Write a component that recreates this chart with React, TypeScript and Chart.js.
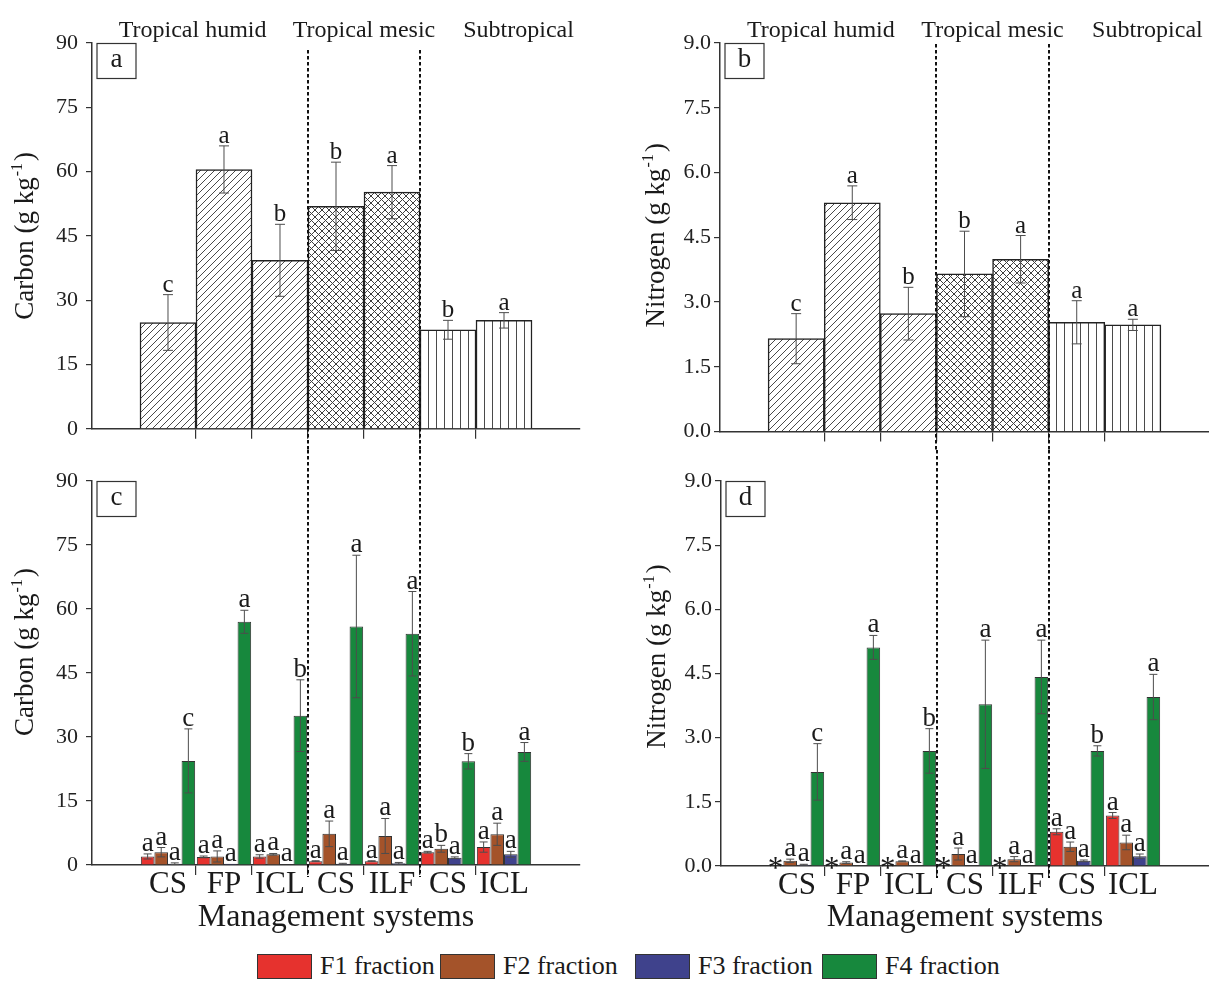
import React, { useEffect, useRef } from 'react';
import { Chart, registerables } from 'chart.js';

Chart.register(...registerables);

const SERIF = "'Liberation Serif', 'Times New Roman', Times, serif";
const INK = '#1a1a1a';

// ---- data -------------------------------------------------------------
const categories = ['CS', 'FP', 'ICL', 'CS', 'ILF', 'CS', 'ICL'];
const climateZones = ['Tropical humid', 'Tropical mesic', 'Subtropical'];
const zoneOfCategory = [0, 0, 0, 1, 1, 2, 2];

const carbonTicks = [0, 15, 30, 45, 60, 75, 90];
const nitrogenTicks = [0, 1.5, 3, 4.5, 6, 7.5, 9];

// (a) total soil carbon
const carbonTotal = [24.8, 60.5, 39.3, 51.9, 55.2, 23.1, 25.3];
const carbonTotalSd = [6.5, 5.5, 8.4, 10.3, 6.2, 2.2, 1.8];
const carbonTotalLetters = ['c', 'a', 'b', 'b', 'a', 'b', 'a'];

// (b) total soil nitrogen
const nitrogenTotal = [2.15, 5.3, 2.73, 3.65, 3.99, 2.53, 2.47];
const nitrogenTotalSd = [0.58, 0.39, 0.61, 0.99, 0.55, 0.5, 0.13];
const nitrogenTotalLetters = ['c', 'a', 'b', 'b', 'a', 'a', 'a'];

// (c) carbon in each fraction
const carbonF1 = [2.0, 1.9, 2.0, 0.9, 0.9, 3.0, 4.2];
const carbonF1Sd = [0.6, 0.2, 0.4, 0.1, 0.1, 0.2, 1.2];
const carbonF1Letters = ['a', 'a', 'a', 'a', 'a', 'a', 'a'];
const carbonF2 = [3.0, 2.0, 2.5, 7.3, 6.8, 3.8, 7.2];
const carbonF2Sd = [1.1, 1.3, 0.2, 3.0, 4.1, 0.8, 2.6];
const carbonF2Letters = ['a', 'a', 'a', 'a', 'a', 'b', 'a'];
const carbonF3 = [0.3, 0.3, 0.15, 0.3, 0.4, 1.7, 2.5];
const carbonF3Sd = [0.2, 0, 0, 0.1, 0.2, 0.2, 0.7];
const carbonF3Letters = ['a', 'a', 'a', 'a', 'a', 'a', 'a'];
const carbonF4 = [24.4, 57.0, 35.0, 55.9, 54.2, 24.3, 26.5];
const carbonF4Sd = [7.5, 2.7, 8.4, 16.7, 9.9, 1.8, 2.2];
const carbonF4Letters = ['c', 'a', 'b', 'a', 'a', 'b', 'a'];

// (d) nitrogen in each fraction ("*" = not detected)
const nitrogenF1 = [null, null, null, null, null, 0.8, 1.18];
const nitrogenF1Sd = [0, 0, 0, 0, 0, 0.07, 0.07];
const nitrogenF1Letters = ['*', '*', '*', '*', '*', 'a', 'a'];
const nitrogenF2 = [0.12, 0.08, 0.11, 0.28, 0.16, 0.45, 0.55];
const nitrogenF2Sd = [0.04, 0.02, 0.01, 0.14, 0.06, 0.11, 0.17];
const nitrogenF2Letters = ['a', 'a', 'a', 'a', 'a', 'a', 'a'];
const nitrogenF3 = [0.03, 0.01, 0.01, 0.01, 0.01, 0.12, 0.23];
const nitrogenF3Sd = [0.01, 0, 0, 0, 0, 0.02, 0.05];
const nitrogenF3Letters = ['a', 'a', 'a', 'a', 'a', 'a', 'a'];
const nitrogenF4 = [2.2, 5.11, 2.69, 3.78, 4.42, 2.69, 3.95];
const nitrogenF4Sd = [0.66, 0.28, 0.52, 1.5, 0.86, 0.12, 0.53];
const nitrogenF4Letters = ['c', 'a', 'b', 'a', 'a', 'b', 'a'];

const fractionNames = ['F1 fraction', 'F2 fraction', 'F3 fraction', 'F4 fraction'];
const fractionColors = ['#E6322E', '#A4532A', '#3F428C', '#17883D'];

// ---- layout -----------------------------------------------------------
const X_MIN = -1.357;
const X_MAX = 7.357;
const ZONE_LABEL_AT = [0.44, 3.5, 6.26];
const HATCH_KINDS = ['diagonal', 'cross', 'vertical'] as const;

type Series = {
  name: string;
  values: (number | null)[];
  errors: number[];
  letters: string[];
  fill?: any;
};

type PanelSpec = {
  tag: string;
  left: number;
  top: number;
  width: number;
  height: number;
  plotLeft: number;
  plotRight: number;
  plotTop: number;
  plotBottom: number;
  yTicks: number[];
  decimals: number;
  yLabelPad: number;
  yTitle: string;
  yTitleX: number;
  yTitleShift: number;
  totals: boolean;
  series: Series[];
  letterSize: number;
  capHalf: number;
  dividerTop: number;
  dividerToCanvasEnd: boolean;
};

function hatchPattern(ctx: CanvasRenderingContext2D, kind: string) {
  const size = kind === 'vertical' ? 8 : 7;
  const tile = document.createElement('canvas');
  tile.width = size;
  tile.height = size;
  const g = tile.getContext('2d')!;
  g.fillStyle = '#ffffff';
  g.fillRect(0, 0, size, size);
  g.strokeStyle = kind === 'cross' ? '#3e3e3e' : '#4a4a4a';
  g.lineWidth = 1;
  g.beginPath();
  if (kind === 'vertical') {
    g.moveTo(size / 2 + 0.5, 0);
    g.lineTo(size / 2 + 0.5, size);
  } else {
    g.moveTo(-1, size + 1);
    g.lineTo(size + 1, -1);
    g.moveTo(-1, 1);
    g.lineTo(1, -1);
    g.moveTo(size - 1, size + 1);
    g.lineTo(size + 1, size - 1);
    if (kind === 'cross') {
      g.moveTo(-1, -1);
      g.lineTo(size + 1, size + 1);
      g.moveTo(-1, size - 1);
      g.lineTo(1, size + 1);
      g.moveTo(size - 1, -1);
      g.lineTo(size + 1, 1);
    }
  }
  g.stroke();
  return ctx.createPattern(tile, 'repeat');
}

function drawYTitle(ctx: CanvasRenderingContext2D, text: string, cx: number, cy: number) {
  const main = `${text} (g kg`;
  const sup = '-1';
  const close = ')';
  ctx.save();
  ctx.font = `27px ${SERIF}`;
  const w1 = ctx.measureText(main).width;
  const w3 = ctx.measureText(close).width;
  ctx.font = `16px ${SERIF}`;
  const w2 = ctx.measureText(sup).width;
  const total = w1 + w2 + w3 + 3;
  ctx.translate(cx, cy);
  ctx.rotate(-Math.PI / 2);
  ctx.fillStyle = INK;
  ctx.textAlign = 'left';
  ctx.textBaseline = 'alphabetic';
  let x = -total / 2;
  ctx.font = `27px ${SERIF}`;
  ctx.fillText(main, x, 0);
  x += w1 + 1;
  ctx.font = `16px ${SERIF}`;
  ctx.fillText(sup, x, -11);
  x += w2 + 2;
  ctx.font = `27px ${SERIF}`;
  ctx.fillText(close, x, 0);
  ctx.restore();
}

function makeDecor(spec: PanelSpec, series: Series[]) {
  const dividers: number[] = [];
  zoneOfCategory.forEach((z, i) => {
    if (i > 0 && z !== zoneOfCategory[i - 1]) dividers.push(i - 0.5);
  });
  return {
    id: 'panelDecor',
    afterDatasetsDraw(chart: any) {
      const ctx: CanvasRenderingContext2D = chart.ctx;
      const yScale = chart.scales.y;
      const y0 = yScale.getPixelForValue(0);
      ctx.save();
      series.forEach((s, di) => {
        const meta = chart.getDatasetMeta(di);
        meta.data.forEach((bar: any, j: number) => {
          const x = bar.x;
          if (!isFinite(x)) return;
          const v = s.values[j];
          const e = s.errors[j] || 0;
          if (v != null && e > 0) {
            const yt = yScale.getPixelForValue(v + e);
            const yb = yScale.getPixelForValue(Math.max(v - e, 0));
            ctx.strokeStyle = '#4d4d4d';
            ctx.lineWidth = 1;
            ctx.beginPath();
            ctx.moveTo(x, yt);
            ctx.lineTo(x, yb);
            ctx.moveTo(x - spec.capHalf, yt);
            ctx.lineTo(x + spec.capHalf, yt);
            ctx.moveTo(x - spec.capHalf, yb);
            ctx.lineTo(x + spec.capHalf, yb);
            ctx.stroke();
          }
          const letter = s.letters[j];
          if (!letter) return;
          ctx.fillStyle = INK;
          ctx.textAlign = 'center';
          ctx.textBaseline = 'alphabetic';
          if (v == null) {
            // not-detected marker sits on the baseline
            ctx.font = `31px ${SERIF}`;
            ctx.fillText(letter, x - 1, y0 + 12);
          } else {
            ctx.font = `${spec.letterSize}px ${SERIF}`;
            ctx.fillText(letter, x, yScale.getPixelForValue(v + e) - 3);
          }
        });
      });
      ctx.restore();
    },
    afterDraw(chart: any) {
      const ctx: CanvasRenderingContext2D = chart.ctx;
      const xScale = chart.scales.x;
      const { left, top, bottom } = chart.chartArea;
      ctx.save();
      // dotted separators between climate zones
      ctx.setLineDash([3.5, 2.5]);
      ctx.lineWidth = 2;
      ctx.strokeStyle = '#111';
      const yEnd = spec.dividerToCanvasEnd ? chart.height : bottom + 12;
      dividers.forEach((d) => {
        const px = Math.round(xScale.getPixelForValue(d));
        ctx.beginPath();
        ctx.moveTo(px, spec.dividerTop);
        ctx.lineTo(px, yEnd);
        ctx.stroke();
      });
      ctx.setLineDash([]);
      // climate zone headings
      if (spec.totals) {
        ctx.fillStyle = INK;
        ctx.font = `24px ${SERIF}`;
        ctx.textAlign = 'center';
        ctx.textBaseline = 'alphabetic';
        climateZones.forEach((name, z) => {
          ctx.fillText(name, xScale.getPixelForValue(ZONE_LABEL_AT[z]), 37);
        });
      }
      // panel tag
      const bx = left + 5;
      const by = top + 0.5;
      ctx.strokeStyle = '#333';
      ctx.lineWidth = 1.2;
      ctx.strokeRect(bx, by, 39, 35);
      ctx.fillStyle = INK;
      ctx.font = `27px ${SERIF}`;
      ctx.textAlign = 'center';
      ctx.textBaseline = 'middle';
      ctx.fillText(spec.tag, bx + 19.5, by + 16);
      // axis title with superscript unit
      drawYTitle(ctx, spec.yTitle, spec.yTitleX, (top + bottom) / 2 + spec.yTitleShift);
      ctx.restore();
    },
  };
}

function buildConfig(spec: PanelSpec, series: Series[]) {
  const withLabels = !spec.totals;
  const titleMid = 467.2;
  const titleLine = 32 * 1.2;
  const xAxisHeight = withLabels ? titleMid + titleLine / 2 - spec.plotBottom : 12;
  const bottomPad = spec.height - spec.plotBottom - xAxisHeight;
  const tickPositions = categories.map((_, i) => i);

  return {
    type: 'bar' as const,
    data: {
      datasets: series.map((s) => ({
        label: s.name,
        data: s.values.map((v, i) => ({ x: i, y: v })),
        backgroundColor: s.fill,
        borderColor: spec.totals ? '#222' : '#333',
        borderWidth: spec.totals ? 1.5 : 1,
        categoryPercentage: spec.totals ? 1 : 0.97,
        barPercentage: 1,
      })),
    },
    options: {
      responsive: false,
      maintainAspectRatio: false,
      animation: false as const,
      devicePixelRatio: 1,
      events: [],
      layout: {
        padding: {
          left: 0,
          top: spec.plotTop,
          right: spec.width - spec.plotRight,
          bottom: bottomPad,
        },
      },
      plugins: {
        legend: { display: false },
        tooltip: { enabled: false },
      },
      scales: {
        x: {
          type: 'linear' as const,
          min: X_MIN,
          max: X_MAX,
          offset: false,
          afterBuildTicks: (s: any) => {
            s.ticks = tickPositions.map((v) => ({ value: v }));
          },
          afterFit: (s: any) => {
            s.height = xAxisHeight;
          },
          grid: {
            display: true,
            // tick marks sit between categories; the outermost two are hidden
            offset: true,
            drawOnChartArea: false,
            drawTicks: true,
            tickLength: 10,
            lineWidth: 1.2,
            color: (c: any) => (c.tick && c.tick.value > 0 ? '#333' : 'rgba(0,0,0,0)'),
          },
          border: { display: true, color: '#333', width: 1.5 },
          ticks: {
            autoSkip: false,
            maxRotation: 0,
            minRotation: 0,
            padding: -9,
            color: INK,
            font: { family: SERIF, size: 31, lineHeight: 1.2 },
            callback: (v: any) =>
              withLabels && Number.isInteger(v) ? categories[v] : '',
          },
          title: {
            display: withLabels,
            text: 'Management systems',
            color: INK,
            padding: 0,
            font: { family: SERIF, size: 32, lineHeight: 1.2 },
          },
        },
        y: {
          min: 0,
          max: spec.yTicks[spec.yTicks.length - 1],
          afterBuildTicks: (s: any) => {
            s.ticks = spec.yTicks.map((v) => ({ value: v }));
          },
          afterFit: (s: any) => {
            s.width = spec.plotLeft;
          },
          grid: {
            drawOnChartArea: false,
            drawTicks: true,
            tickLength: 6,
            lineWidth: 1.2,
            color: '#333',
          },
          border: { display: true, color: '#333', width: 1.5 },
          ticks: {
            padding: spec.yLabelPad,
            color: '#222',
            font: { family: SERIF, size: 22 },
            callback: (v: any) => (spec.decimals ? Number(v).toFixed(spec.decimals) : String(v)),
          },
        },
      },
    },
    plugins: [makeDecor(spec, series)],
  };
}

function Panel({ spec }: { spec: PanelSpec }) {
  const ref = useRef<HTMLCanvasElement>(null);
  useEffect(() => {
    const canvas = ref.current;
    if (!canvas) return;
    const ctx = canvas.getContext('2d')!;
    const series: Series[] = spec.totals
      ? spec.series.map((s) => ({
          ...s,
          fill: zoneOfCategory.map((z) => hatchPattern(ctx, HATCH_KINDS[z])),
        }))
      : spec.series.map((s, i) => ({ ...s, fill: fractionColors[i] }));
    const chart = new Chart(canvas, buildConfig(spec, series) as any);
    return () => chart.destroy();
  }, [spec]);
  return (
    <canvas
      ref={ref}
      width={spec.width}
      height={spec.height}
      style={{
        position: 'absolute',
        left: spec.left,
        top: spec.top,
        width: spec.width,
        height: spec.height,
      }}
    />
  );
}

const panels: PanelSpec[] = [
  {
    tag: 'a', left: 0, top: 0, width: 604, height: 450,
    plotLeft: 92, plotRight: 580, plotTop: 43, plotBottom: 431.5,
    yTicks: carbonTicks, decimals: 0, yLabelPad: 8,
    yTitle: 'Carbon', yTitleX: 33, yTitleShift: 0,
    totals: true,
    series: [{ name: 'Total', values: carbonTotal, errors: carbonTotalSd, letters: carbonTotalLetters }],
    letterSize: 25, capHalf: 5, dividerTop: 50, dividerToCanvasEnd: true,
  },
  {
    tag: 'b', left: 604, top: 0, width: 605, height: 450,
    plotLeft: 116, plotRight: 605, plotTop: 43, plotBottom: 431.5,
    yTicks: nitrogenTicks, decimals: 1, yLabelPad: 3,
    yTitle: 'Nitrogen', yTitleX: 60, yTitleShift: -2,
    totals: true,
    series: [{ name: 'Total', values: nitrogenTotal, errors: nitrogenTotalSd, letters: nitrogenTotalLetters }],
    letterSize: 25, capHalf: 5, dividerTop: 44, dividerToCanvasEnd: true,
  },
  {
    tag: 'c', left: 0, top: 450, width: 604, height: 500,
    plotLeft: 92, plotRight: 580, plotTop: 31, plotBottom: 415,
    yTicks: carbonTicks, decimals: 0, yLabelPad: 8,
    yTitle: 'Carbon', yTitleX: 33, yTitleShift: -21,
    totals: false,
    series: [
      { name: fractionNames[0], values: carbonF1, errors: carbonF1Sd, letters: carbonF1Letters },
      { name: fractionNames[1], values: carbonF2, errors: carbonF2Sd, letters: carbonF2Letters },
      { name: fractionNames[2], values: carbonF3, errors: carbonF3Sd, letters: carbonF3Letters },
      { name: fractionNames[3], values: carbonF4, errors: carbonF4Sd, letters: carbonF4Letters },
    ],
    letterSize: 27, capHalf: 4, dividerTop: 0, dividerToCanvasEnd: false,
  },
  {
    tag: 'd', left: 604, top: 450, width: 605, height: 500,
    plotLeft: 117, plotRight: 605, plotTop: 31, plotBottom: 416,
    yTicks: nitrogenTicks, decimals: 1, yLabelPad: 3,
    yTitle: 'Nitrogen', yTitleX: 61, yTitleShift: -17,
    totals: false,
    series: [
      { name: fractionNames[0], values: nitrogenF1, errors: nitrogenF1Sd, letters: nitrogenF1Letters },
      { name: fractionNames[1], values: nitrogenF2, errors: nitrogenF2Sd, letters: nitrogenF2Letters },
      { name: fractionNames[2], values: nitrogenF3, errors: nitrogenF3Sd, letters: nitrogenF3Letters },
      { name: fractionNames[3], values: nitrogenF4, errors: nitrogenF4Sd, letters: nitrogenF4Letters },
    ],
    letterSize: 27, capHalf: 4, dividerTop: 0, dividerToCanvasEnd: false,
  },
];

const LEGEND_X = [257, 440, 635, 822];

export default function App() {
  return (
    <div
      style={{
        position: 'absolute',
        left: 0,
        top: 0,
        width: 1209,
        height: 983,
        overflow: 'hidden',
        background: '#ffffff',
      }}
    >
      {panels.map((p) => (
        <Panel key={p.tag} spec={p} />
      ))}
      {fractionNames.map((name, i) => (
        <div
          key={name}
          style={{
            position: 'absolute',
            left: LEGEND_X[i],
            top: 953,
            height: 26,
            display: 'flex',
            alignItems: 'center',
          }}
        >
          <span
            style={{
              display: 'inline-block',
              width: 55,
              height: 25,
              boxSizing: 'border-box',
              border: '1.5px solid #333',
              background: fractionColors[i],
            }}
          />
          <span
            style={{
              marginLeft: 8,
              fontFamily: SERIF,
              fontSize: 26,
              lineHeight: '26px',
              color: INK,
              whiteSpace: 'nowrap',
            }}
          >
            {name}
          </span>
        </div>
      ))}
    </div>
  );
}
